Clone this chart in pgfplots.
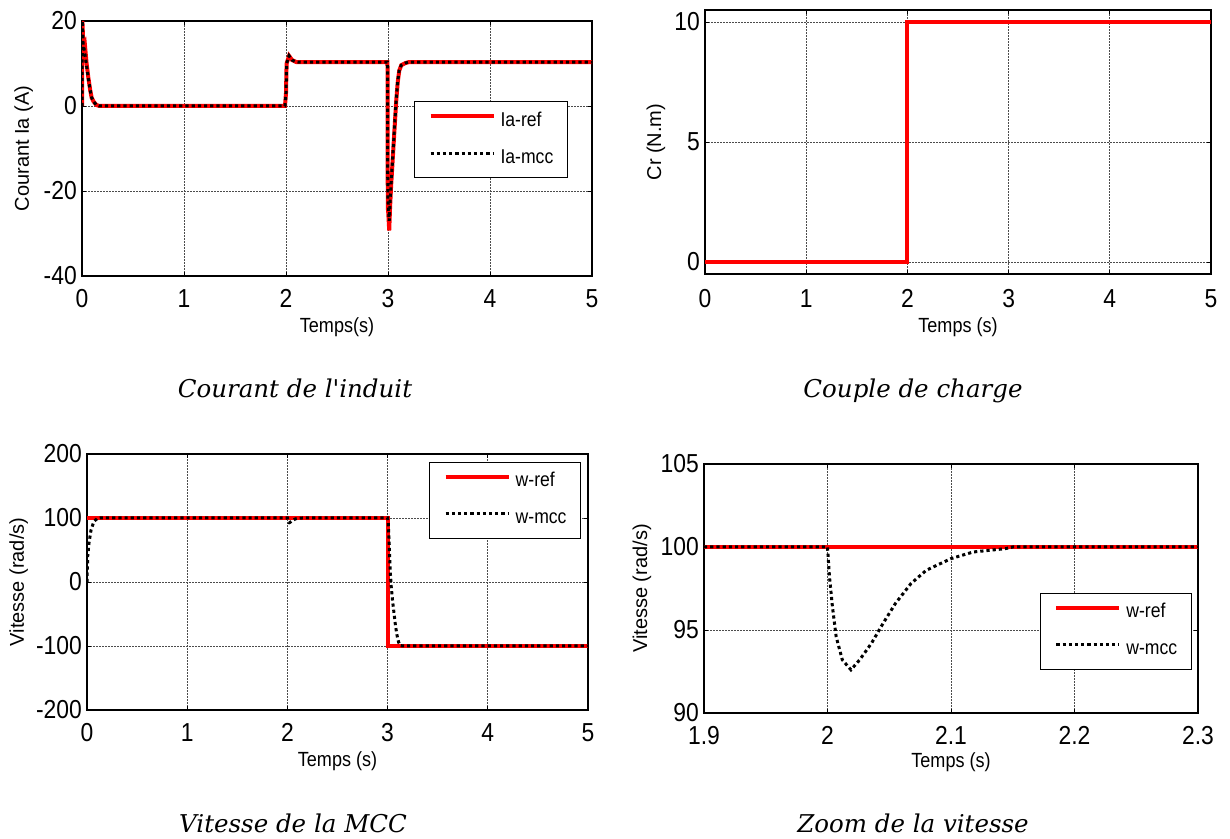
\documentclass[border=0pt]{standalone}
\usepackage{pgfplots}
\pgfplotsset{compat=1.18}
\usepackage{fontspec}
\setmainfont{Liberation Sans}
\newfontfamily\nfont[FakeStretch=0.88]{Liberation Sans}
\newfontfamily\capfont{DejaVu Serif}
\newcommand\tickfont{\nfont\fontsize{26bp}{28bp}\selectfont}
\newcommand\xlabfont{\nfont\fontsize{20.5bp}{22bp}\selectfont}
\newcommand\ylabfont{\fontsize{20bp}{22bp}\selectfont}
\newcommand\legfont{\nfont\fontsize{20bp}{22bp}\selectfont}
\newcommand\captfont{\capfont\itshape\fontsize{24.5bp}{28bp}\selectfont}
\definecolor{mred}{RGB}{255,0,0}

\pgfplotsset{
  mat/.style={
    scale only axis,
    axis line style={line width=1.1bp},
    grid=major,
    grid style={line width=0.7bp, black!70, dash pattern=on 1.6bp off 1.4bp},
    tick align=inside, major tick length=4bp,
    tick style={black, line width=0.8bp},
    /pgf/number format/assume math mode=true,
    ticklabel style={font=\tickfont},
    xticklabel style={anchor=base, yshift=-32bp},
    yticklabel style={anchor=east, xshift=-5bp, inner sep=0pt},
    xlabel style={font=\xlabfont, anchor=base},
    ylabel style={font=\ylabfont, anchor=base},
    legend cell align=left,
    legend image code/.code={\draw[##1] (0bp,5bp) -- (63bp,5bp);},
    legend style={draw=black, line width=1bp, fill=white, font=\legfont,
      inner xsep=14bp, inner ysep=10.5bp, row sep=19bp,
      nodes={inner sep=0pt, text height=14bp, text depth=4bp},
      /tikz/every odd column/.append style={column sep=5bp}},
  },
  refl/.style={mred, line width=4bp},
  mccl/.style={black, line width=3bp, dash pattern=on 3.2bp off 3bp},
}

\begin{document}
\begin{tikzpicture}
\useasboundingbox (0,0) rectangle (1230bp,839bp);

% ---------------- Panel 1 ----------------
\begin{axis}[mat,
  at={(82bp,563bp)}, anchor=south west,
  width=510bp, height=255bp,
  xmin=0, xmax=5, ymin=-40, ymax=20,
  xtick={0,1,2,3,4,5}, xticklabels={0,1,2,3,4,5},
  ytick={-40,-20,0,20}, yticklabels={-40,-20,0,20},
  xlabel={Temps(s)}, ylabel={Courant Ia (A)},
  xlabel style={at={([yshift=-57bp]axis description cs:0.5,0)}},
  ylabel style={at={([xshift=-53bp]axis description cs:0,0.5)}},
  legend style={at={(axis description cs:0.651,0.686)}, anchor=north west},
]
\addplot[refl] coordinates {
(0,0) (0.004,20) (0.01,16) (0.018,13) (0.03,14) (0.045,10) (0.062,6.7) (0.08,3.8) (0.094,2) (0.115,1) (0.14,0.25) (0.17,0)
(1.99,0) (2.0,3) (2.006,10) (2.03,11.8) (2.06,10.8) (2.1,10.35) (2.15,10.3)
(2.995,10.3) (2.998,-24) (3.0,-24) (3.012,-29.3) (3.02,-24) (3.03,-19) (3.05,-11) (3.065,-5) (3.08,1) (3.095,5.5) (3.11,8.3) (3.13,9.6) (3.17,10.1) (3.2,10.3)
(5,10.3)
};
\addlegendentry{Ia-ref}
\addplot[mccl] coordinates {
(0,0) (0.004,20) (0.012,14) (0.02,13.5) (0.03,12) (0.045,9.5) (0.062,6.5) (0.08,3.8) (0.094,2) (0.115,1) (0.14,0.25) (0.17,0)
(1.99,0) (2.0,3) (2.006,10) (2.03,11.8) (2.06,10.8) (2.1,10.35) (2.15,10.3)
(2.995,10.3) (2.998,-22) (3.0,-22) (3.012,-27) (3.02,-23) (3.03,-18.5) (3.05,-10.5) (3.065,-4.5) (3.08,1.3) (3.095,5.7) (3.11,8.4) (3.13,9.6) (3.17,10.1) (3.2,10.3)
(5,10.3)
};
\addlegendentry{Ia-mcc}
\end{axis}

% ---------------- Panel 2 ----------------
\begin{axis}[mat,
  at={(705bp,565bp)}, anchor=south west,
  width=506bp, height=264bp,
  xmin=0, xmax=5, ymin=-0.5, ymax=10.5,
  xtick={0,1,2,3,4,5}, xticklabels={0,1,2,3,4,5},
  ytick={0,5,10}, yticklabels={0,5,10},
  xlabel={Temps (s)}, ylabel={Cr (N.m)},
  xlabel style={at={([yshift=-59bp]axis description cs:0.5,0)}},
  ylabel style={at={([xshift=-44bp]axis description cs:0,0.5)}},
  xticklabel style={yshift=-2bp},
]
\addplot[refl] coordinates {(0,0) (2,0) (2,10) (5,10)};
\end{axis}

% ---------------- Panel 3 ----------------
\begin{axis}[mat,
  at={(87bp,129bp)}, anchor=south west,
  width=501bp, height=256bp,
  xmin=0, xmax=5, ymin=-200, ymax=200,
  xtick={0,1,2,3,4,5}, xticklabels={0,1,2,3,4,5},
  ytick={-200,-100,0,100,200}, yticklabels={-200,-100,0,100,200},
  xlabel={Temps (s)}, ylabel={Vitesse (rad/s)},
  xlabel style={at={([yshift=-57bp]axis description cs:0.5,0)}},
  ylabel style={at={([xshift=-63bp]axis description cs:0,0.5)}},
  legend style={at={(axis description cs:0.683,0.969)}, anchor=north west},
]
\addplot[refl] coordinates {(0,100) (3,100) (3,-100) (5,-100)};
\addlegendentry{w-ref}
\addplot[mccl] coordinates {
(0,0) (0.007,40) (0.02,61) (0.04,81) (0.067,94) (0.1,99) (0.13,100)
(2.0,100) (2.004,96.4) (2.012,93.2) (2.019,92.6) (2.03,93.6) (2.05,96) (2.08,98.6) (2.1,99.3) (2.15,100)
(3.0,100) (3.008,90) (3.015,65) (3.025,20) (3.035,-5) (3.05,-30) (3.065,-50) (3.08,-70) (3.095,-84) (3.11,-94) (3.125,-99) (3.15,-100)
(5,-100)
};
\addlegendentry{w-mcc}
\end{axis}

% ---------------- Panel 4 ----------------
\begin{axis}[mat,
  at={(704bp,126bp)}, anchor=south west,
  width=494bp, height=249bp,
  xmin=1.9, xmax=2.3, ymin=90, ymax=105,
  xtick={1.9,2,2.1,2.2,2.3}, xticklabels={1.9,2,2.1,2.2,2.3},
  ytick={90,95,100,105}, yticklabels={90,95,100,105},
  xlabel={Temps (s)}, ylabel={Vitesse (rad/s)},
  xlabel style={at={([yshift=-55bp]axis description cs:0.5,0)}},
  ylabel style={at={([xshift=-57bp]axis description cs:0,0.5)}},
  legend style={at={(axis description cs:0.68,0.482)}, anchor=north west},
]
\addplot[refl] coordinates {(1.9,100) (2.3,100)};
\addlegendentry{w-ref}
\addplot[mccl] coordinates {
(1.9,100) (2.0,100) (2.0016,98.2) (2.004,96.4) (2.007,94.6) (2.012,93.2) (2.019,92.6) (2.026,93.2) (2.0356,94.2) (2.045,95.4) (2.055,96.6) (2.0676,97.8) (2.08,98.6) (2.1,99.3) (2.118,99.7) (2.144,99.9) (2.15,100) (2.3,100)
};
\addlegendentry{w-mcc}
\end{axis}

% ---------------- Captions ----------------
\node[anchor=base, font=\captfont] at (295bp,441bp) {Courant de l'induit};
\node[anchor=base, font=\captfont] at (913bp,441bp) {Couple de charge};
\node[anchor=base, font=\captfont] at (293bp,7bp) {Vitesse de la MCC};
\node[anchor=base, font=\captfont] at (913bp,7bp) {Zoom de la vitesse};
\end{tikzpicture}
\end{document}
